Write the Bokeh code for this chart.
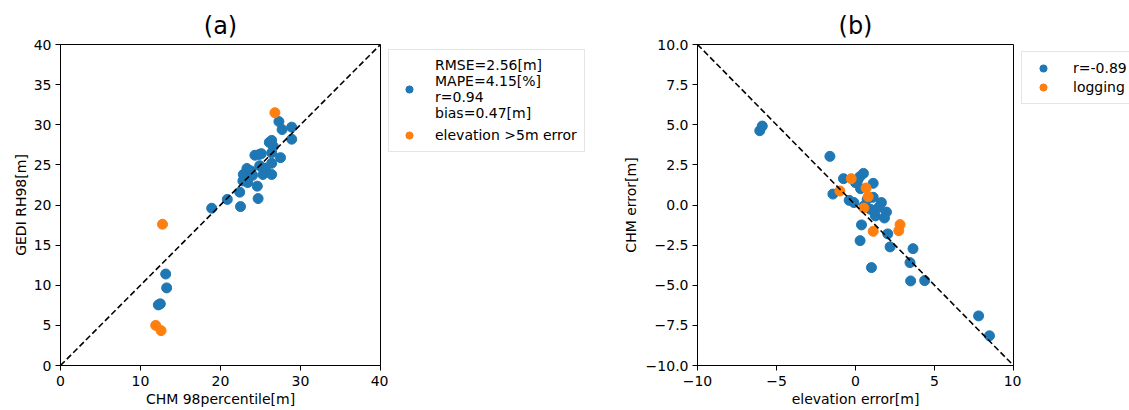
from bokeh.plotting import figure
from bokeh.models import Legend, LegendItem, FixedTicker, CustomJSTickFormatter, Range1d
from bokeh.layouts import row
from bokeh.embed import file_html
from bokeh.resources import INLINE

FONT = "DejaVu Sans"
BLUE = "#1f77b4"
ORANGE = "#ff7f0e"

# ---------------- panel (a) data ----------------
chm_ok = [13.15, 13.27, 12.23, 12.48, 18.9, 20.85, 22.5, 22.4, 24.7, 24.6, 23.4, 22.8,
          22.85, 23.3, 23.8, 24.0, 24.9, 25.3, 25.6, 26.4, 26.4, 27.5, 24.3, 24.85,
          25.1, 26.4, 26.6, 26.1, 26.4, 28.9, 27.7, 28.9, 27.3]
gedi_ok = [11.4, 9.67, 7.55, 7.68, 19.6, 20.7, 19.8, 21.6, 20.8, 22.35, 22.8, 23.0,
           23.8, 24.55, 24.25, 23.7, 24.9, 23.8, 24.6, 23.8, 25.2, 25.9, 26.2, 26.3,
           26.4, 26.5, 27.3, 27.8, 28.05, 28.2, 29.4, 29.7, 30.4]
chm_elev = [26.8, 12.75, 11.9, 12.57]
gedi_elev = [31.5, 17.6, 5.0, 4.35]
range_a = [0, 40]
stats_label = "RMSE=2.56[m]\nMAPE=4.15[%]\nr=0.94\nbias=0.47[m]"
elev_label = "elevation >5m error"
ticks_ax = [0, 10, 20, 30, 40]
labels_ax = ["0", "10", "20", "30", "40"]
ticks_ay = [0, 5, 10, 15, 20, 25, 30, 35, 40]
labels_ay = ["0", "5", "10", "15", "20", "25", "30", "35", "40"]

# ---------------- panel (b) data ----------------
elev_all = [-6.06, -5.9, -1.62, -1.43, -0.76, -0.4, -0.1, 0.0, 0.15, 0.27, 0.5, 0.32,
            1.12, 1.12, 0.74, 0.95, 1.26, 1.64, 1.47, 1.96, 1.83, 0.38, 0.29, 2.04,
            2.19, 3.64, 3.45, 1.01, 3.49, 4.38, 7.79, 8.48, 0.55]
chmerr_all = [4.63, 4.92, 3.03, 0.68, 1.64, 0.29, 0.15, 1.39, 1.56, 1.76, 1.97, 1.02,
              1.35, 0.48, 0.35, -0.27, -0.68, 0.15, -0.15, -0.44, -0.81, -1.24, -2.22, -1.8,
              -2.61, -2.72, -3.59, -3.9, -4.73, -4.71, -6.91, -8.15, -0.05]
elev_log = [-0.27, -0.99, 0.67, 0.8, 0.53, 1.12, 2.82, 2.74]
chmerr_log = [1.64, 0.87, 1.06, 0.52, -0.19, -1.64, -1.22, -1.6]
range_bx = [-10, 10]
range_by = [10, -10]
r_label = "r=-0.89"
log_label = "logging"
ticks_bx = [-10, -5, 0, 5, 10]
labels_bx = ["\u221210", "\u22125", "0", "5", "10"]
ticks_by = [-10, -7.5, -5, -2.5, 0, 2.5, 5, 7.5, 10]
labels_by = ["\u221210.0", "\u22127.5", "\u22125.0", "\u22122.5", "0.0", "2.5", "5.0", "7.5", "10.0"]

TOP, FRAME_H, BOTTOM = 44, 321, 45


def fmt(ticks, labels):
    return CustomJSTickFormatter(args=dict(tv=ticks, tl=labels),
                                 code="const i = tv.indexOf(tick); return i >= 0 ? tl[i] : '';")


def make_fig(title, xr, yr, left, fw, right, xt, xl, yt, yl, xlab, ylab, ylab_standoff):
    p = figure(frame_width=fw, frame_height=FRAME_H,
               x_range=Range1d(*xr), y_range=Range1d(*yr),
               min_border_left=left, min_border_right=right,
               min_border_top=TOP, min_border_bottom=BOTTOM,
               output_backend="svg", toolbar_location=None,
               background_fill_color="white", border_fill_color="white")
    p.title.text = title
    p.title.align = "center"
    p.title.text_font = FONT
    p.title.text_font_size = "24px"
    p.title.text_font_style = "normal"
    p.title.text_color = "black"
    p.title.standoff = 9
    p.outline_line_color = "black"
    p.outline_line_width = 1
    p.xgrid.visible = False
    p.ygrid.visible = False
    for ax, t, l, lab in ((p.xaxis[0], xt, xl, xlab), (p.yaxis[0], yt, yl, ylab)):
        ax.ticker = FixedTicker(ticks=t)
        ax.formatter = fmt(t, l)
        ax.axis_label = lab
        ax.axis_label_text_font = FONT
        ax.axis_label_text_font_size = "14px"
        ax.axis_label_text_font_style = "normal"
        ax.axis_label_text_color = "black"
        ax.major_label_text_font = FONT
        ax.major_label_text_font_size = "14px"
        ax.major_label_text_color = "black"
        ax.axis_line_color = "black"
        ax.major_tick_line_color = "black"
        ax.major_tick_out = 5
        ax.major_tick_in = 0
        ax.minor_tick_line_color = None
    p.xaxis[0].major_label_standoff = 5
    p.xaxis[0].axis_label_standoff = 2
    p.yaxis[0].major_label_standoff = 4
    p.yaxis[0].axis_label_standoff = ylab_standoff
    return p


def legend_strip(width, loc, items, pad, gw, standoff, spacing):
    # a plain strip next to a panel that only carries that panel's legend box
    s = figure(frame_width=width, frame_height=FRAME_H,
               x_range=Range1d(100, 101), y_range=Range1d(100, 101),
               min_border_left=0, min_border_right=0,
               min_border_top=TOP, min_border_bottom=BOTTOM,
               x_axis_location=None, y_axis_location=None,
               output_backend="svg", toolbar_location=None,
               background_fill_color="white", border_fill_color="white")
    s.outline_line_color = None
    s.xgrid.visible = False
    s.ygrid.visible = False
    legend_items = []
    for label, xs, ys, color in items:
        r = s.scatter(xs, ys, size=10, color=color)
        legend_items.append(LegendItem(label=label, renderers=[r]))
    leg = Legend(items=legend_items, location=loc, margin=0)
    leg.label_text_font = FONT
    leg.label_text_font_size = "14px"
    leg.label_text_color = "black"
    leg.label_text_line_height = 1.3
    leg.border_line_color = "#cccccc"
    leg.border_line_width = 1
    leg.background_fill_color = "white"
    leg.glyph_width = gw
    leg.glyph_height = 18
    leg.padding = pad
    leg.spacing = spacing
    leg.label_standoff = standoff
    s.add_layout(leg)
    return s


# ---------------- (a) ----------------
pa = make_fig("(a)", range_a, range_a, 60, 320, 8,
              ticks_ax, labels_ax, ticks_ay, labels_ay,
              "CHM 98percentile[m]", "GEDI RH98[m]", 2)
pa.scatter(chm_ok, gedi_ok, size=10, color=BLUE)
pa.scatter(chm_elev, gedi_elev, size=10, color=ORANGE)
pa.line(range_a, range_a, line_color="black", line_width=1.6, line_dash="6 3")
la = legend_strip(212, (0, 213),
                  [(stats_label, chm_ok, gedi_ok, BLUE), (elev_label, chm_elev, gedi_elev, ORANGE)],
                  7, 26, 13, 5)

# ---------------- (b) ----------------
pb = make_fig("(b)", range_bx, [-10, 10], 97, 316, 8,
              ticks_bx, labels_bx, ticks_by, labels_by,
              "elevation error[m]", "CHM error[m]", 4)
pb.scatter(elev_all, chmerr_all, size=10, color=BLUE)
pb.scatter(elev_log, chmerr_log, size=10, color=ORANGE)
pb.line(range_bx, range_by, line_color="black", line_width=1.6, line_dash="6 3")
lb = legend_strip(108, (0, 261),
                  [(r_label, elev_all, chmerr_all, BLUE), (log_label, elev_log, chmerr_log, ORANGE)],
                  7, 28, 16, 1)

layout = row(pa, la, pb, lb)
layout.spacing = 0
open("out.html", "w").write(file_html(layout, INLINE))
